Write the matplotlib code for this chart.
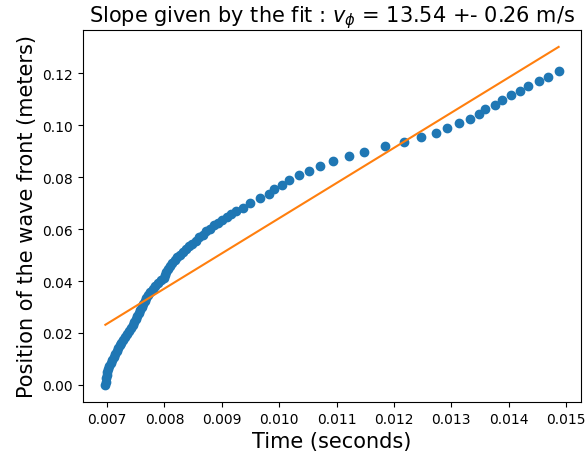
import matplotlib
matplotlib.use("Agg")
import matplotlib.pyplot as plt
import numpy as np

# Time of arrival of the wave front (seconds)
times = [
    0.006970, 0.006979, 0.006988, 0.006997, 0.007005, 0.007023, 0.007040, 0.007066,
    0.007092, 0.007118, 0.007145, 0.007171, 0.007197, 0.007223, 0.007249, 0.007284,
    0.007319, 0.007354, 0.007388, 0.007423, 0.007449, 0.007476, 0.007502, 0.007528,
    0.007554, 0.007580, 0.007606, 0.007632, 0.007658, 0.007685, 0.007719, 0.007754,
    0.007798, 0.007841, 0.007894, 0.007946, 0.007998, 0.008016, 0.008033, 0.008059,
    0.008094, 0.008137, 0.008181, 0.008224, 0.008277, 0.008329, 0.008381, 0.008434,
    0.008486, 0.008547, 0.008608, 0.008669, 0.008730, 0.008799, 0.008869, 0.008939,
    0.009008, 0.009095, 0.009165, 0.009252, 0.009374,
    0.009496, 0.009658, 0.009815, 0.009914, 0.010048, 0.010175, 0.010337, 0.010524,
    0.010715, 0.010942, 0.011220, 0.011487, 0.011842, 0.012184, 0.012469, 0.012736,
    0.012927, 0.013136, 0.013328, 0.013490, 0.013594, 0.013758, 0.013880, 0.014037,
    0.014194, 0.014333, 0.014525, 0.014687, 0.014872,
]

# Position of the wave front (meters)
positions = [
    0.0000, 0.0013, 0.0026, 0.0038, 0.0049, 0.0061, 0.0072, 0.0084,
    0.0096, 0.0107, 0.0119, 0.0130, 0.0142, 0.0153, 0.0163, 0.0173,
    0.0184, 0.0196, 0.0207, 0.0219, 0.0230, 0.0242, 0.0254, 0.0265,
    0.0277, 0.0288, 0.0300, 0.0311, 0.0323, 0.0334, 0.0346, 0.0358,
    0.0369, 0.0381, 0.0392, 0.0402, 0.0412, 0.0423, 0.0435, 0.0446,
    0.0458, 0.0469, 0.0481, 0.0491, 0.0500, 0.0512, 0.0523, 0.0533,
    0.0544, 0.0556, 0.0568, 0.0579, 0.0591, 0.0602, 0.0614, 0.0624,
    0.0635, 0.0647, 0.0658, 0.0670, 0.0683,
    0.0701, 0.0720, 0.0736, 0.0755, 0.0771, 0.0790, 0.0810, 0.0825,
    0.0844, 0.0864, 0.0881, 0.0898, 0.0919, 0.0934, 0.0954, 0.0969,
    0.0988, 0.1008, 0.1024, 0.1042, 0.1062, 0.1078, 0.1097, 0.1117,
    0.1132, 0.1151, 0.1171, 0.1186, 0.1207,
]

# Linear fit parameters
slope = 13.54
slope_err = 0.26
intercept = -0.07122

t = np.array(times)
x = np.array(positions)

fig = plt.figure(figsize=(5.86, 4.60), dpi=100)
ax = fig.add_axes([82.7 / 586, 57.2 / 460, 498.6 / 586, 371.8 / 460])

ax.plot(t, x, 'o')
ax.plot(t, slope * t + intercept)

ax.set_title(r'Slope given by the fit : $v_\phi$ = %.2f +- %.2f m/s' % (slope, slope_err), fontsize=15)
ax.set_xlabel("Time (seconds)", fontsize=15)
ax.set_ylabel("Position of the wave front (meters)", fontsize=15)

fig.savefig("out.png", dpi=100)
